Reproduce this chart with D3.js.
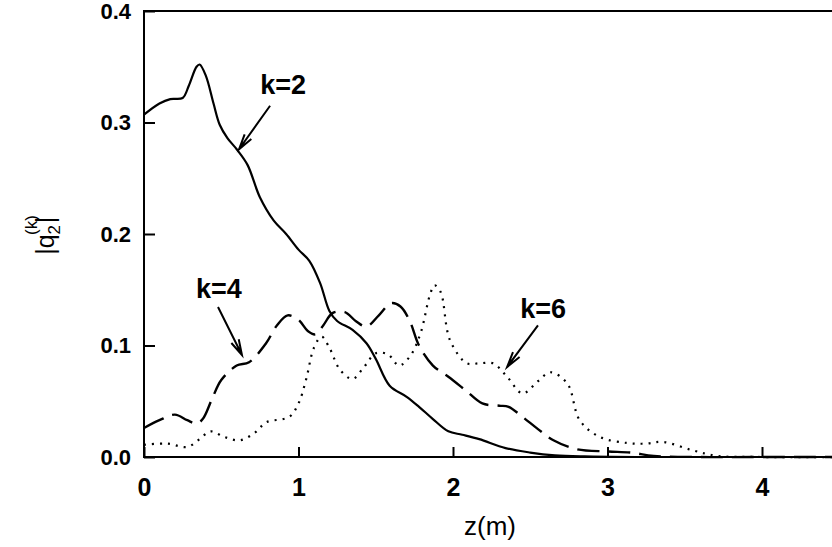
<!DOCTYPE html>
<html>
<head>
<meta charset="utf-8">
<script src="https://cdn.jsdelivr.net/npm/d3@7"></script>
<style>
  body { margin: 0; background: #fff; }
  svg { display: block; }
  text { font-family: "Liberation Sans", Arial, sans-serif; fill: #000; }
</style>
</head>
<body>
<svg width="832" height="547"></svg>
<script>
// values: z in metres, |q2^(k)| dimensionless

var k2Z = [0, 0.1, 0.17, 0.25, 0.29, 0.34, 0.36, 0.4, 0.45, 0.49, 0.54, 0.6, 0.67, 0.75, 0.84, 0.92, 1.0, 1.07, 1.14, 1.2, 1.25, 1.35, 1.44, 1.5, 1.59, 1.7, 1.78, 1.87, 1.97, 2.06, 2.17, 2.34, 2.5, 2.66, 2.85, 3.2, 3.6, 4.0, 4.5, 5.0];
var k2Q = [0.307, 0.317, 0.321, 0.322, 0.333, 0.35, 0.352, 0.342, 0.317, 0.298, 0.286, 0.276, 0.262, 0.233, 0.212, 0.2, 0.186, 0.176, 0.156, 0.131, 0.122, 0.114, 0.102, 0.088, 0.064, 0.054, 0.045, 0.034, 0.023, 0.02, 0.016, 0.008, 0.004, 0.0015, 0.0005, 0, 0, 0, 0, 0];

var k4Z = [0, 0.1, 0.2, 0.28, 0.34, 0.38, 0.44, 0.5, 0.6, 0.68, 0.79, 0.86, 0.93, 1.0, 1.06, 1.11, 1.16, 1.22, 1.3, 1.37, 1.44, 1.52, 1.6, 1.66, 1.72, 1.78, 1.87, 1.97, 2.08, 2.19, 2.3, 2.36, 2.45, 2.55, 2.65, 2.8, 3.0, 3.15, 3.3, 3.6, 4.0, 5.0];
var k4Q = [0.026, 0.033, 0.038, 0.033, 0.030, 0.034, 0.052, 0.069, 0.082, 0.085, 0.102, 0.118, 0.127, 0.123, 0.113, 0.110, 0.118, 0.129, 0.130, 0.122, 0.117, 0.127, 0.138, 0.135, 0.122, 0.100, 0.082, 0.072, 0.060, 0.048, 0.046, 0.045, 0.036, 0.025, 0.015, 0.007, 0.005, 0.004, 0.001, 0, 0, 0];

var k6Z = [0, 0.15, 0.28, 0.36, 0.43, 0.52, 0.62, 0.72, 0.79, 0.94, 1.0, 1.05, 1.1, 1.15, 1.2, 1.27, 1.35, 1.42, 1.5, 1.58, 1.65, 1.72, 1.79, 1.85, 1.88, 1.92, 1.98, 2.09, 2.17, 2.26, 2.35, 2.45, 2.55, 2.63, 2.74, 2.82, 2.95, 3.13, 3.25, 3.36, 3.55, 3.71, 4.0, 5.0];
var k6Q = [0.011, 0.012, 0.009, 0.016, 0.023, 0.018, 0.015, 0.022, 0.031, 0.036, 0.048, 0.07, 0.098, 0.108, 0.098, 0.078, 0.070, 0.080, 0.093, 0.092, 0.082, 0.090, 0.111, 0.145, 0.154, 0.148, 0.105, 0.084, 0.084, 0.084, 0.072, 0.057, 0.068, 0.076, 0.066, 0.033, 0.018, 0.0125, 0.012, 0.0135, 0.006, 0.001, 0, 0];

var xTicks = [0, 1, 2, 3, 4];
var yTicks = [0, 0.1, 0.2, 0.3, 0.4];
var xTitle = "z(m)";

// curve labels with arrows (text spot, arrow tail, arrow tip, all in data units)
var notes = [
  {txt: "k=2", tz: 0.90, tq: 0.3256, az: 0.816, aq: 0.315, bz: 0.615, bq: 0.276},
  {txt: "k=4", tz: 0.485, tq: 0.1426, az: 0.479, aq: 0.1345, bz: 0.634, bq: 0.0915},
  {txt: "k=6", tz: 2.583, tq: 0.1247, az: 2.55, aq: 0.118, bz: 2.35, bq: 0.0807}
];

var svg = d3.select("svg"),
    x = d3.scaleLinear().domain([0, 5]).range([144, 144 + 5 * 154.5]),
    y = d3.scaleLinear().domain([0, 0.4]).range([457, 11]);

svg.append("rect").attr("width", 832).attr("height", 547).attr("fill", "#fff");

// axes, ticks pointing inward
var gx = svg.append("g").attr("transform", "translate(0," + y(0) + ")")
  .call(d3.axisBottom(x).tickValues(xTicks).tickFormat(d3.format("d"))
    .tickSizeInner(-10).tickSizeOuter(0).tickPadding(21));
var gy = svg.append("g").attr("transform", "translate(" + x(0) + ",0)")
  .call(d3.axisLeft(y).tickValues(yTicks).tickFormat(d3.format(".1f"))
    .tickSizeInner(-11).tickSizeOuter(0).tickPadding(13));

[gx, gy].forEach(function(g) {
  g.select(".domain").remove();
  g.selectAll(".tick line").attr("stroke", "#000").attr("stroke-width", 2);
  g.selectAll(".tick text").attr("font-weight", "bold")
    .style("font-family", "'Liberation Sans', Arial, sans-serif").attr("fill", "#000");
});
gy.selectAll(".tick text").attr("font-size", 22);
gx.selectAll(".tick text").attr("font-size", 25).attr("dy", "0.71em");

// frame
var frame = svg.append("g").attr("stroke", "#000").attr("stroke-width", 2).attr("fill", "none");
frame.append("path")
  .attr("d", "M" + x(5) + "," + y(0.4) + "H" + x(0) + "V" + y(0) + "H" + x(5) + "V" + y(0.4));

// curves
var line = d3.line()
  .x(function(d) { return x(d[0]); })
  .y(function(d) { return y(d[1]); })
  .curve(d3.curveCatmullRom.alpha(0.5));

function pairs(zs, qs) { return zs.map(function(z, i) { return [z, qs[i]]; }); }

var curves = svg.append("g").attr("fill", "none").attr("stroke", "#000");
curves.append("path").attr("d", line(pairs(k2Z, k2Q))).attr("stroke-width", 2.2);
curves.append("path").attr("d", line(pairs(k4Z, k4Q))).attr("stroke-width", 2.4)
  .attr("stroke-dasharray", "22,9");
curves.append("path").attr("d", line(pairs(k6Z, k6Q))).attr("stroke-width", 2.2)
  .attr("stroke-dasharray", "2,6");

// labels and arrows
var ann = svg.append("g");
notes.forEach(function(n) {
  ann.append("text")
    .attr("x", x(n.tz)).attr("y", y(n.tq))
    .attr("text-anchor", "middle").attr("font-size", 27).attr("font-weight", "bold")
    .text(n.txt);
  var x1 = x(n.az), y1 = y(n.aq), x2 = x(n.bz), y2 = y(n.bq);
  var ang = Math.atan2(y2 - y1, x2 - x1), hl = 16, hw = 0.26;
  ann.append("path")
    .attr("d", "M" + x1 + "," + y1 + "L" + x2 + "," + y2 +
      "M" + (x2 - hl * Math.cos(ang - hw)) + "," + (y2 - hl * Math.sin(ang - hw)) +
      "L" + x2 + "," + y2 +
      "L" + (x2 - hl * Math.cos(ang + hw)) + "," + (y2 - hl * Math.sin(ang + hw)))
    .attr("fill", "none").attr("stroke", "#000").attr("stroke-width", 2);
});

// axis titles
svg.append("text")
  .attr("x", 490).attr("y", 535)
  .attr("text-anchor", "middle").attr("font-size", 26)
  .text(xTitle);

var yt = svg.append("text")
  .attr("transform", "translate(54,235) rotate(-90)")
  .attr("text-anchor", "middle").attr("font-size", 25);
yt.append("tspan").text("|q");
yt.append("tspan").attr("font-size", 17).attr("dy", 6).text("2");
yt.append("tspan").attr("font-size", 17).attr("dx", -10).attr("dy", -23).text("(k)");
yt.append("tspan").attr("dy", 17).attr("dx", -8).text("|");
</script>
</body>
</html>
